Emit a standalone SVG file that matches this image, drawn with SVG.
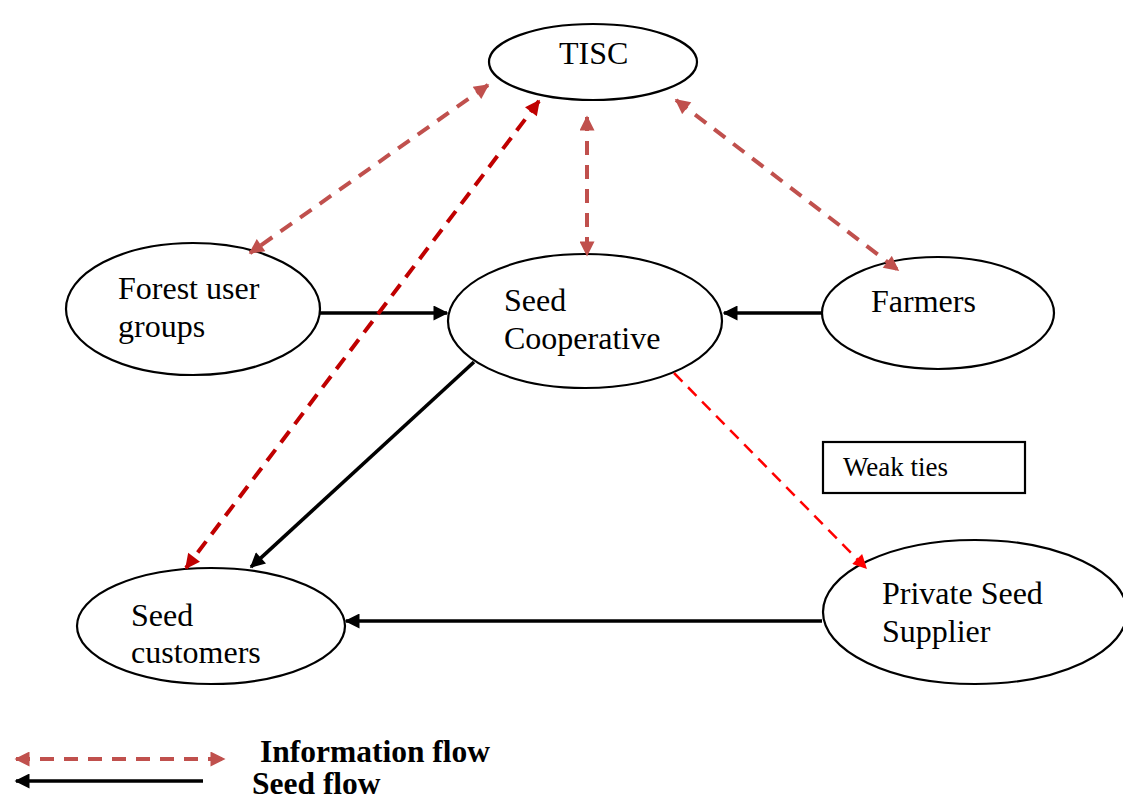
<svg xmlns="http://www.w3.org/2000/svg" width="1123" height="801" viewBox="0 0 1123 801">
  <style>
    .node ellipse, .node rect { fill: #ffffff; stroke: #000000; stroke-width: 2.2; }
    .label { font-family: "Liberation Serif", "Times New Roman", serif; font-size: 32px; fill: #000000; }
    .small { font-size: 27px; }
    .legend { font-family: "Liberation Serif", "Times New Roman", serif; font-size: 31.5px; font-weight: bold; fill: #000000; }
    .seed { fill: none; stroke: #000000; stroke-width: 3.6; }
    .info { fill: none; stroke: #C0504D; stroke-width: 4; stroke-dasharray: 14 10; }
    .info-dark { fill: none; stroke: #C00000; stroke-width: 4; stroke-dasharray: 14 9; }
    .weak { fill: none; stroke: #FF0000; stroke-width: 2.5; stroke-dasharray: 12 8; }
  </style>
  <defs>
    <marker id="arrBlack" viewBox="0 0 10 10" refX="9" refY="5" markerUnits="userSpaceOnUse" markerWidth="18" markerHeight="15" orient="auto-start-reverse">
      <path d="M0,0 L10,5 L0,10 Z" fill="#000000"/>
    </marker>
    <marker id="arrInfo" viewBox="0 0 10 10" refX="9" refY="5" markerUnits="userSpaceOnUse" markerWidth="17" markerHeight="15" orient="auto-start-reverse">
      <path d="M0,0 L10,5 L0,10 Z" fill="#C0504D"/>
    </marker>
    <marker id="arrDark" viewBox="0 0 10 10" refX="9" refY="5" markerUnits="userSpaceOnUse" markerWidth="17" markerHeight="15" orient="auto-start-reverse">
      <path d="M0,0 L10,5 L0,10 Z" fill="#C00000"/>
    </marker>
    <marker id="arrRed" viewBox="0 0 10 10" refX="9" refY="5" markerUnits="userSpaceOnUse" markerWidth="16" markerHeight="14" orient="auto-start-reverse">
      <path d="M0,0 L10,5 L0,10 Z" fill="#FF0000"/>
    </marker>
  </defs>

  <rect width="1123" height="801" fill="#ffffff"/>

  <!-- nodes -->
  <g id="tisc" class="node">
    <ellipse cx="593" cy="62" rx="104" ry="38"/>
    <text class="label" x="559" y="64">TISC</text>
  </g>
  <g id="forest-user-groups" class="node">
    <ellipse cx="193" cy="309" rx="127" ry="66"/>
    <text class="label" x="118" y="299">Forest user</text>
    <text class="label" x="118" y="337">groups</text>
  </g>
  <g id="seed-cooperative" class="node">
    <ellipse cx="585" cy="321" rx="137" ry="67"/>
    <text class="label" x="504" y="311">Seed</text>
    <text class="label" x="504" y="349">Cooperative</text>
  </g>
  <g id="farmers" class="node">
    <ellipse cx="938" cy="313" rx="116" ry="56"/>
    <text class="label" x="871" y="312">Farmers</text>
  </g>
  <g id="seed-customers" class="node">
    <ellipse cx="211" cy="626" rx="134" ry="58"/>
    <text class="label" x="131" y="626">Seed</text>
    <text class="label" x="131" y="663">customers</text>
  </g>
  <g id="private-seed-supplier" class="node">
    <ellipse cx="975" cy="612" rx="152" ry="72"/>
    <text class="label" x="882" y="604">Private Seed</text>
    <text class="label" x="882" y="642">Supplier</text>
  </g>
  <g id="weak-ties" class="node">
    <rect x="823" y="442" width="202" height="51"/>
    <text class="label small" x="843" y="476">Weak ties</text>
  </g>

  <!-- connectors -->
  <g id="connectors">
    <line class="seed" x1="320" y1="313" x2="447" y2="313" marker-end="url(#arrBlack)"/>
    <line class="seed" x1="822" y1="313" x2="724" y2="313" marker-end="url(#arrBlack)"/>
    <line class="seed" x1="822" y1="621" x2="346" y2="621" marker-end="url(#arrBlack)"/>
    <line class="seed" x1="474" y1="362" x2="251" y2="567" marker-end="url(#arrBlack)"/>
    <line class="info" x1="488" y1="85" x2="250" y2="253" marker-start="url(#arrInfo)" marker-end="url(#arrInfo)"/>
    <line class="info" x1="587" y1="117" x2="587" y2="255" marker-start="url(#arrInfo)" marker-end="url(#arrInfo)"/>
    <line class="info" x1="676" y1="100" x2="898" y2="270" marker-start="url(#arrInfo)" marker-end="url(#arrInfo)"/>
    <line class="info-dark" x1="539" y1="101" x2="186" y2="568" marker-start="url(#arrDark)" marker-end="url(#arrDark)"/>
    <line class="weak" x1="674" y1="373" x2="866" y2="568" marker-end="url(#arrRed)"/>
  </g>

  <!-- legend -->
  <g id="legend">
    <line class="info" x1="16" y1="759" x2="224" y2="759" marker-start="url(#arrInfo)" marker-end="url(#arrInfo)"/>
    <text class="legend" x="260" y="762">Information flow</text>
    <line class="seed" x1="203" y1="781" x2="16" y2="781" marker-end="url(#arrBlack)"/>
    <text class="legend" x="252" y="794">Seed flow</text>
  </g>
</svg>
